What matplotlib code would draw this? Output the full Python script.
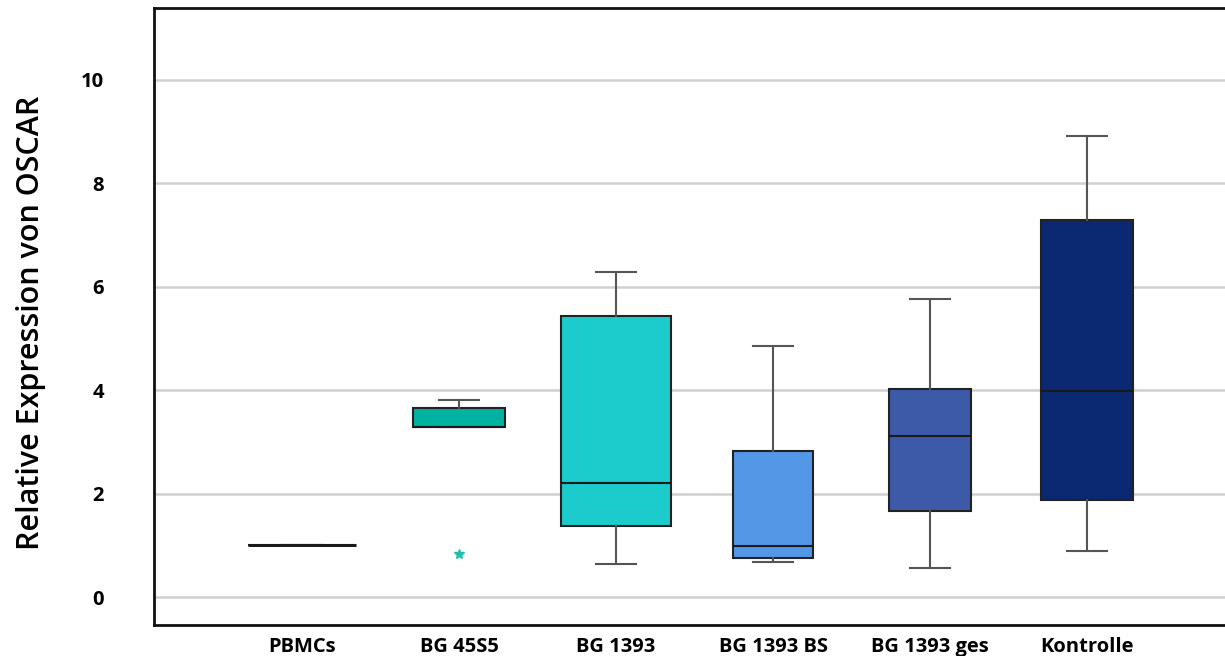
import matplotlib.pyplot as plt
import numpy as np

# data
groups = ['PBMCs', 'BG 45S5', 'BG 1393', 'BG 1393 BS', 'BG 1393 ges', 'Kontrolle']
whislo = [1.0, 3.29, 0.64, 0.68, 0.56, 0.89]
q1 = [1.0, 3.29, 1.37, 0.75, 1.66, 1.88]
med = [1.0, 3.29, 2.20, 0.99, 3.11, 3.98]
q3 = [1.0, 3.66, 5.44, 2.82, 4.02, 7.29]
whishi = [1.0, 3.81, 6.29, 4.85, 5.76, 8.92]
fliers = [[], [0.83], [], [], [], []]
colors = ['#000000', '#00b3a0', '#1ccccc', '#5298e6', '#3d5aa8', '#0b2872']

stats = []
for i, g in enumerate(groups):
    stats.append(dict(label=g, whislo=whislo[i], q1=q1[i], med=med[i],
                      q3=q3[i], whishi=whishi[i], fliers=fliers[i]))

fig = plt.figure(figsize=(12.25, 6.56), dpi=100)
ax = fig.add_axes([0.1257, 0.0473, 0.8743, 0.9405])

pos = np.arange(len(groups))
widths = [0.69, 0.59, 0.70, 0.51, 0.52, 0.59]

bp = ax.bxp(stats, positions=pos, widths=widths, capwidths=0.255,
            patch_artist=True, showfliers=True,
            boxprops=dict(edgecolor='#222222', linewidth=1.5),
            medianprops=dict(color='#1a1a1a', linewidth=1.5),
            whiskerprops=dict(color='#555555', linewidth=1.5),
            capprops=dict(color='#555555', linewidth=1.5),
            flierprops=dict(marker='*', markersize=7, markerfacecolor='#20c0b0',
                            markeredgecolor='#20c0b0', linestyle='none'))
for patch, c in zip(bp['boxes'], colors):
    patch.set_facecolor(c)
bp['boxes'][0].set_edgecolor('black')
bp['boxes'][0].set_linewidth(2)

ax.set_xlim(-0.943, 5.879)
ax.set_ylim(-0.54, 11.39)
ax.set_yticks([0, 2, 4, 6, 8, 10])
ax.grid(axis='y', color='#d0d0d0', linewidth=1.8)
ax.set_axisbelow(True)
ax.spines['right'].set_visible(False)
for s in ['top', 'left', 'bottom']:
    ax.spines[s].set_linewidth(2)
    ax.spines[s].set_color('#111111')

ax.tick_params(axis='both', length=0)
ax.tick_params(axis='y', pad=36)
ax.tick_params(axis='x', pad=9)
for lab in ax.get_xticklabels() + ax.get_yticklabels():
    lab.set_fontfamily(['Open Sans', 'DejaVu Sans'])
    lab.set_fontweight('bold')
    lab.set_fontsize(14.5)

ax.set_ylabel('Relative Expression von OSCAR', fontsize=22, fontweight='semibold',
              family=['Open Sans', 'DejaVu Sans'])
ax.yaxis.set_label_coords(-0.101, 0.49)

plt.savefig('out.png', dpi=100)
